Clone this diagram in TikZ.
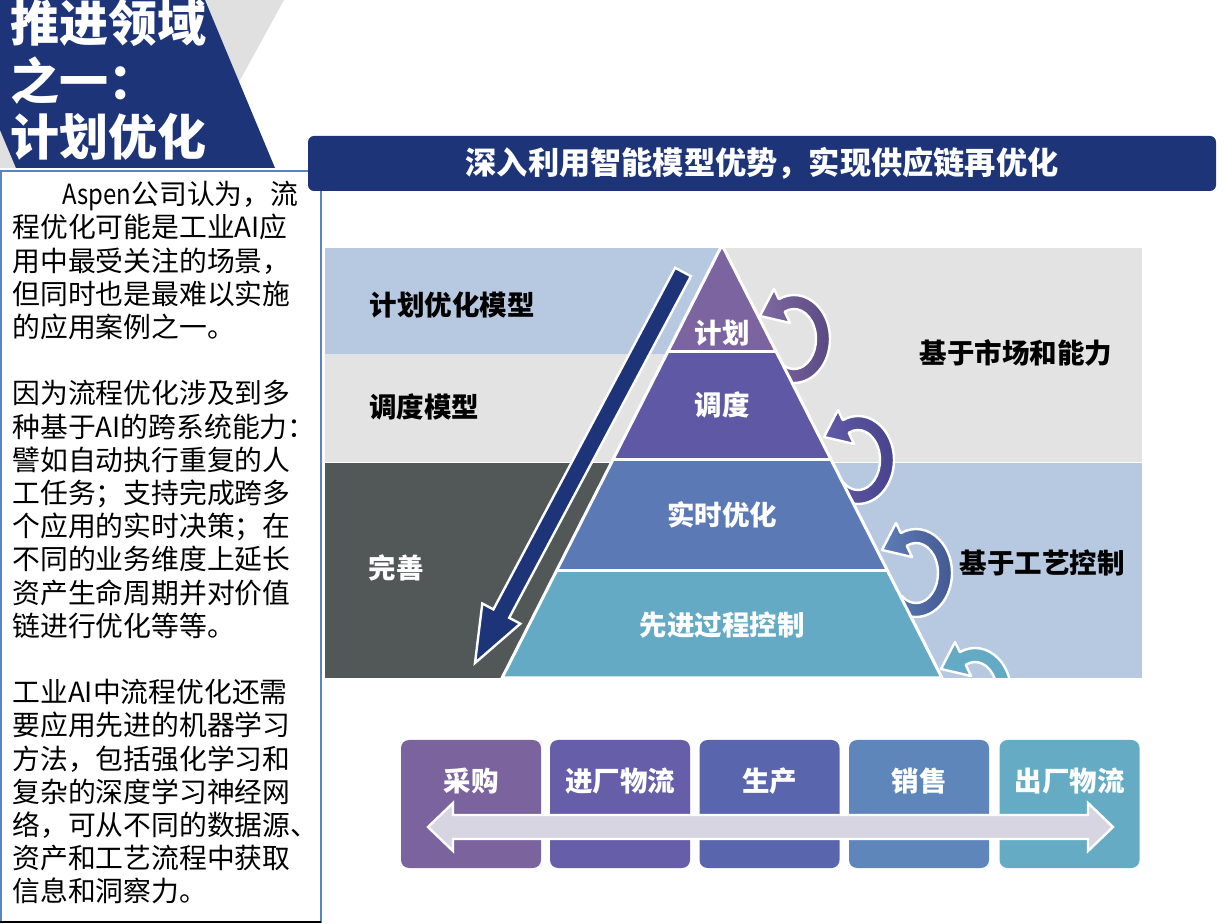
\documentclass[tikz,border=0pt]{standalone}
\usepackage{fontspec}
\setmainfont{Noto Sans CJK SC}
\usetikzlibrary{calc}
\definecolor{navy}{HTML}{1D3578}
\definecolor{titlegrey}{HTML}{E0E0E0}
\definecolor{bandblue}{HTML}{B7C9E1}
\definecolor{bandgrey}{HTML}{E3E3E3}
\definecolor{banddark}{HTML}{525757}
\definecolor{boxborder}{HTML}{5B82C3}
\definecolor{pA}{HTML}{7B64A0}
\definecolor{pAl}{HTML}{8069A3}
\definecolor{pAd}{HTML}{574880}
\definecolor{pB}{HTML}{5F58A5}
\definecolor{pBl}{HTML}{625BA8}
\definecolor{pBd}{HTML}{46418A}
\definecolor{pC}{HTML}{5B79B5}
\definecolor{pCl}{HTML}{5E7CB8}
\definecolor{pCd}{HTML}{42578F}
\definecolor{pD}{HTML}{64AAC4}
\definecolor{bx1}{HTML}{7B639E}
\definecolor{bx2}{HTML}{665EA8}
\definecolor{bx3}{HTML}{5966AE}
\definecolor{bx4}{HTML}{5F86BA}
\definecolor{bx5}{HTML}{66ABC4}
\definecolor{lav}{HTML}{D8D5E3}
\tikzset{
  titletext/.style={text=white, font=\fontsize{24.5pt}{28pt}\selectfont\bfseries, anchor=west},
  lbl/.style={font=\fontsize{13.75pt}{16pt}\selectfont\bfseries},
  wlbl/.style={lbl, text=white},
  blbl/.style={lbl, text=black},
  levelfill/.style={draw=white, line width=1.5pt, line join=round},
  stagebox/.style={rounded corners=4pt, minimum width=70pt, minimum height=64pt, draw=none},
  curarrow/.pic={
    \path[draw=white, line width=1.2pt, line join=round, pic actions]
      (130:22 and 30) -- (130:36 and 44)
      arc[start angle=130, end angle=-115, x radius=36, y radius=44]
      -- (-20,-50) -- (-34,-23) -- (-4,-16) -- (-115:22 and 30)
      arc[start angle=-115, end angle=130, x radius=22, y radius=30] -- cycle;
  }
}
\begin{document}
\begin{tikzpicture}[x=0.5pt,y=-0.5pt, every node/.style={inner sep=0pt}]
\useasboundingbox (0,0) rectangle (1232,924);
\fill[white] (0,0) rectangle (1232,924);

% ---- title block
\fill[titlegrey] (205,0) -- (284,0) -- (239,82) -- cycle;
\fill[titlegrey] (0,128) -- (16,168) -- (0,168) -- cycle;
\fill[navy] (0,0) -- (205,0) -- (275,168) -- (16,168) -- (0,130) -- cycle;
\node[titletext] (t1) at (10,23) {推进领域};
\node[titletext] (t2) at (10,81) {之一：};
\node[titletext] (t3) at (10,137) {计划优化};

% ---- text box
\draw[boxborder, line width=1pt] (1,171) rectangle (321,922);
\draw[black, line width=1pt] (0,922) -- (321,922);
\node[anchor=north west, align=left, font=\fontsize{13.9pt}{16.6pt}\selectfont] (body) at (12,181) {%
\hspace*{1.8em}\scalebox{0.86}[1]{Aspen}公司认为，流\\
程优化可能是工业AI应\\
用中最受关注的场景，\\
但同时也是最难以实施\\
的应用案例之一。\\
~\\
因为流程优化涉及到多\\
种基于AI的跨系统能力：\\
譬如自动执行重复的人\\
工任务；支持完成跨多\\
个应用的实时决策；在\\
不同的业务维度上延长\\
资产生命周期并对价值\\
链进行优化等等。\\
~\\
工业AI中流程优化还需\\
要应用先进的机器学习\\
方法，包括强化学习和\\
复杂的深度学习神经网\\
络，可从不同的数据源、\\
资产和工艺流程中获取\\
信息和洞察力。};

% ---- header bar
\node[fill=navy, rounded corners=3pt, minimum width=454pt, minimum height=27.5pt, text=white,
      font=\fontsize{15.6pt}{18pt}\selectfont\bfseries] (header) at (762,163.5)
      {深入利用智能模型优势，实现供应链再优化};

% ---- background bands
\fill[bandblue] (325,248) rectangle (722,354);
\fill[bandgrey] (722,248) rectangle (1142,462);
\fill[bandgrey] (325,354) rectangle (722,462);
\fill[banddark] (325,463) rectangle (722,678);
\fill[bandblue] (722,463) rectangle (1142,678);
\draw[white, line width=0.6pt] (325,462.5) -- (1142,462.5);

% ---- curved arrows
\pic[left color=pAl, right color=pAd] (arrA) at (794,339) {curarrow};
\pic[left color=pBl, right color=pBd] (arrB) at (858,460) {curarrow};
\pic[left color=pCl, right color=pCd] (arrC) at (916,573) {curarrow};
\begin{scope}
  \clip (880,600) rectangle (1142,678);
  \pic[fill=pD] (arrD) at (975,692) {curarrow};
\end{scope}

% ---- pyramid
\coordinate (A) at (722,245);
\coordinate (BL) at (502,678);
\coordinate (BR) at (942,678);
\coordinate (L1) at ($(A)!0.2471!(BL)$);
\coordinate (R1) at ($(A)!0.2471!(BR)$);
\coordinate (L2) at ($(A)!0.4965!(BL)$);
\coordinate (R2) at ($(A)!0.4965!(BR)$);
\coordinate (L3) at ($(A)!0.7506!(BL)$);
\coordinate (R3) at ($(A)!0.7506!(BR)$);
\fill[pD] (L3) -- (R3) -- (BR) -- (BL) -- cycle;
\fill[pC] (L2) -- (R2) -- (R3) -- (L3) -- cycle;
\fill[pB] (L1) -- (R1) -- (R2) -- (L2) -- cycle;
\fill[pA] (A) -- (R1) -- (L1) -- cycle;
\draw[levelfill] (A) -- (BR) -- (BL) -- cycle;
\draw[levelfill] (L1) -- (R1) (L2) -- (R2) (L3) -- (R3);

\node[wlbl] (plan) at (722,333) {计划};
\node[wlbl] (sched) at (722,405) {调度};
\node[wlbl] (rto) at (722,515) {实时优化};
\node[wlbl] (apc) at (722,625) {先进过程控制};

% ---- big diagonal arrow
\fill[navy, draw=white, line width=1.2pt, line join=miter]
  (675.1,267.8) -- (690.9,276.2) -- (509.2,617.8) -- (520.3,623.7) -- (475,663)
  -- (482.3,603.5) -- (493.4,609.4) -- cycle;

% ---- band labels
\node[blbl] (m1) at (452,305) {计划优化模型};
\node[blbl] (m2) at (424,407) {调度模型};
\node[wlbl] (m3) at (396,568) {完善};
\node[blbl] (r1) at (1016,353) {基于市场和能力};
\node[blbl] (r2) at (1042,563) {基于工艺控制};

% ---- bottom stages
\node[stagebox, fill=bx1] (s1) at (471,804) {};
\node[stagebox, fill=bx2] (s2) at (620,804) {};
\node[stagebox, fill=bx3] (s3) at (769.5,804) {};
\node[stagebox, fill=bx4] (s4) at (919,804) {};
\node[stagebox, fill=bx5] (s5) at (1069.5,804) {};
\node[wlbl] (s1t) at (471,781) {采购};
\node[wlbl] (s2t) at (620,781) {进厂物流};
\node[wlbl] (s3t) at (769.5,781) {生产};
\node[wlbl] (s4t) at (919,781) {销售};
\node[wlbl] (s5t) at (1069.5,781) {出厂物流};
\fill[lav, draw=white, line width=1.2pt, line join=miter]
  (428,827) -- (453,803) -- (453,815) -- (1088,815) -- (1088,803) -- (1113,827)
  -- (1088,851) -- (1088,839) -- (453,839) -- (453,851) -- cycle;
\end{tikzpicture}
\end{document}
